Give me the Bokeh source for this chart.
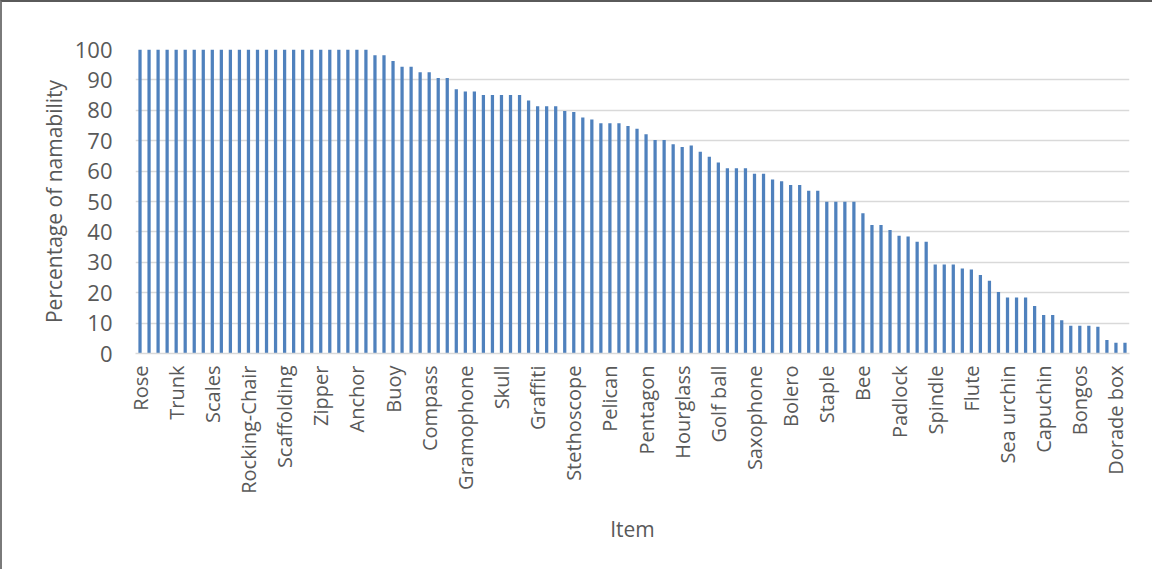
from bokeh.plotting import figure
from bokeh.models import FixedTicker, Range1d, ColumnDataSource
from bokeh.embed import file_html
from bokeh.resources import INLINE

# --- data ---
values = [100] * 26 + [
    98.1, 98.1, 96.2, 94.3, 94.3, 92.5, 92.5, 90.6, 90.6, 86.9,
    86.2, 86.2, 85.0, 85.0, 85.0, 85.0, 85.0, 83.2, 81.3, 81.3,
    81.3, 79.8, 79.4, 77.6, 77.0, 75.7, 75.7, 75.7, 74.8, 73.9,
    72.1, 70.2, 70.2, 68.8, 67.9, 68.4, 66.4, 64.7, 62.8, 60.9,
    60.9, 60.9, 59.1, 59.1, 57.2, 56.7, 55.4, 55.4, 53.5, 53.5,
    49.9, 49.9, 49.9, 49.9, 46.1, 42.3, 42.3, 40.6, 38.7, 38.5,
    36.8, 36.8, 29.3, 29.3, 29.3, 28.0, 27.6, 25.8, 23.9, 20.2,
    18.4, 18.4, 18.4, 15.6, 12.7, 12.7, 10.9, 9.1, 9.1, 9.1,
    8.8, 4.4, 3.5, 3.5,
]
labelled_items = [
    "Rose", "Trunk", "Scales", "Rocking-Chair", "Scaffolding", "Zipper", "Anchor",
    "Buoy", "Compass", "Gramophone", "Skull", "Graffiti", "Stethoscope", "Pelican",
    "Pentagon", "Hourglass", "Golf ball", "Saxophone", "Bolero", "Staple", "Bee",
    "Padlock", "Spindle", "Flute", "Sea urchin", "Capuchin", "Bongos", "Dorade box",
]
label_step = 4
y_ticks = list(range(0, 101, 10))

positions = list(range(len(values)))
tick_pos = [i * label_step for i in range(len(labelled_items))]

src = ColumnDataSource(dict(x=positions, top=values))

FONT = "Open Sans"
TXT = "#595959"

p = figure(
    width=1152, height=569,
    output_backend="svg", toolbar_location=None,
    x_range=Range1d(-0.5, len(values) - 0.5),
    y_range=Range1d(0, 100),
    min_border_left=133, min_border_right=25, min_border_top=47, min_border_bottom=218,
)
p.styles = {"border-left": "2px solid #7a7a7a", "border-top": "2px solid #5a5a5a"}
p.outline_line_color = None
p.background_fill_color = "white"
p.border_fill_color = "white"

p.vbar(x="x", top="top", width=0.36, source=src, fill_color="#4f81bd",
       line_color=None)

# y axis
p.yaxis.ticker = FixedTicker(ticks=y_ticks)
p.yaxis.axis_line_color = None
p.yaxis.major_tick_line_color = None
p.yaxis.minor_tick_line_color = None
p.yaxis.major_label_standoff = 17
p.yaxis.major_label_text_font = FONT
p.yaxis.major_label_text_font_size = "22px"
p.yaxis.major_label_text_color = TXT
p.yaxis.axis_label = "Percentage of namability"
p.yaxis.axis_label_text_font = FONT
p.yaxis.axis_label_text_font_size = "21px"
p.yaxis.axis_label_text_font_style = "normal"
p.yaxis.axis_label_text_color = TXT
p.yaxis.axis_label_standoff = 4

# x axis
p.xaxis.ticker = FixedTicker(ticks=tick_pos)
p.xaxis.major_label_overrides = {pos: name for pos, name in zip(tick_pos, labelled_items)}
p.xaxis.major_label_orientation = 3.14159265 / 2
p.xaxis.axis_line_color = "#d9d9d9"
p.xaxis.axis_line_width = 1.5
p.xaxis.major_tick_line_color = None
p.xaxis.minor_tick_line_color = None
p.xaxis.major_label_standoff = 6
p.xaxis.major_label_text_font = FONT
p.xaxis.major_label_text_font_size = "20px"
p.xaxis.major_label_text_color = TXT
p.xaxis.axis_label = "Item"
p.xaxis.axis_label_text_font = FONT
p.xaxis.axis_label_text_font_size = "21px"
p.xaxis.axis_label_text_font_style = "normal"
p.xaxis.axis_label_text_color = TXT
p.xaxis.axis_label_standoff = 18

p.xgrid.grid_line_color = None
p.ygrid.ticker = FixedTicker(ticks=y_ticks[1:])
p.ygrid.grid_line_color = "#d9d9d9"
p.ygrid.grid_line_width = 1.5

open("out.html", "w").write(file_html(p, INLINE))
